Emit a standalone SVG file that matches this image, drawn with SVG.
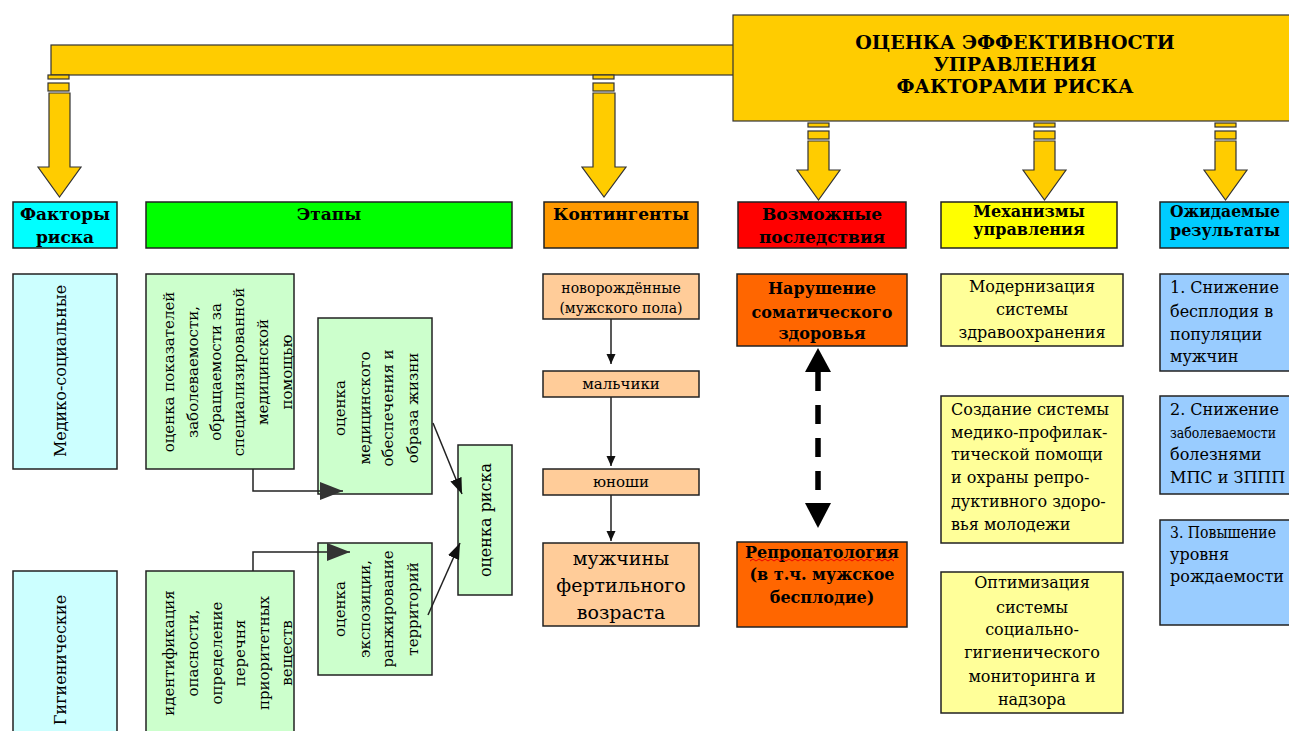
<svg xmlns="http://www.w3.org/2000/svg" width="1289" height="731" viewBox="0 0 1289 731">
<style>
.t{font-family:"DejaVu Serif","Liberation Serif",serif;fill:#000}
.c{text-anchor:middle}
.b{font-weight:bold}
.bx{stroke:#222;stroke-width:1.5}
.gold{fill:#FFCC00;stroke:#333;stroke-width:1.2}
.ln{fill:none;stroke:#222;stroke-width:1.5}
.rot{dominant-baseline:central;text-anchor:middle}
.f15{font-size:15px}
.f16{font-size:16px}
.f17{font-size:17px}
</style>
<defs>
<marker id="bigHead" markerUnits="userSpaceOnUse" markerWidth="24" markerHeight="18" refX="23" refY="9" orient="auto"><path d="M0,0 L23,9 L0,18 Z" fill="#333"/></marker>
<marker id="midHead" markerUnits="userSpaceOnUse" markerWidth="17" markerHeight="13" refX="16" refY="6" orient="auto"><path d="M0,0 L16,6 L0,12 Z" fill="#111"/></marker>
<marker id="smallHead" markerUnits="userSpaceOnUse" markerWidth="11" markerHeight="10" refX="10" refY="4.5" orient="auto"><path d="M0,0 L10,4.5 L0,9 Z" fill="#111"/></marker>
</defs>
<rect width="1289" height="731" fill="#fff"/>

<g id="top-bar"><rect class="gold" x="51" y="45" width="684" height="30"/></g>
<g id="title">
<rect class="gold" x="733" y="15" width="570" height="106"/>
<text class="t b c" font-size="19" x="1015" y="49">ОЦЕНКА ЭФФЕКТИВНОСТИ</text>
<text class="t b c" font-size="19" x="1015" y="71">УПРАВЛЕНИЯ</text>
<text class="t b c" font-size="19" x="1015" y="93">ФАКТОРАМИ РИСКА</text>
</g>

<g id="big-arrows">
<rect class="gold" x="48" y="75" width="21" height="4"/>
<rect class="gold" x="48" y="83" width="21" height="8"/>
<path class="gold" d="M49,93 H70 V167 H81 L59.5,197 L38,167 H49 Z"/>
<rect class="gold" x="593" y="75" width="21" height="4"/>
<rect class="gold" x="593" y="83" width="21" height="8"/>
<path class="gold" d="M593,93 H615 V167 H626 L604,197 L582,167 H593 Z"/>
<rect class="gold" x="808" y="123" width="21" height="4"/>
<rect class="gold" x="808" y="131" width="21" height="8"/>
<path class="gold" d="M808,141 H829 V170 H840 L818.5,200 L797,170 H808 Z"/>
<rect class="gold" x="1034" y="123" width="21" height="4"/>
<rect class="gold" x="1034" y="131" width="21" height="8"/>
<path class="gold" d="M1034,141 H1055 V170 H1066 L1044.5,200 L1023,170 H1034 Z"/>
<rect class="gold" x="1215" y="123" width="21" height="4"/>
<rect class="gold" x="1215" y="131" width="21" height="8"/>
<path class="gold" d="M1215,141 H1236 V170 H1247 L1225.5,200 L1204,170 H1215 Z"/>
</g>

<g id="h-factors"><rect class="bx" x="13" y="202" width="104" height="46" fill="#00FFFF"/>
<text class="t b c f17" x="65" y="220">Факторы</text><text class="t b c f17" x="65" y="243">риска</text></g>
<g id="h-stages"><rect class="bx" x="146" y="202" width="366" height="46" fill="#00FF00"/>
<text class="t b c f17" x="329" y="220">Этапы</text></g>
<g id="h-contingents"><rect class="bx" x="544" y="202" width="154" height="46" fill="#FF9900"/>
<text class="t b c f17" x="621" y="220">Контингенты</text></g>
<g id="h-consequences"><rect class="bx" x="738" y="202" width="168" height="46" fill="#FF0000"/>
<text class="t b c f17" x="822" y="220">Возможные</text><text class="t b c f17" x="822" y="243">последствия</text></g>
<g id="h-mechanisms"><rect class="bx" x="941" y="202" width="176" height="46" fill="#FFFF00"/>
<text class="t b c" font-size="16" x="1029" y="217">Механизмы</text><text class="t b c" font-size="16" x="1029" y="235">управления</text></g>
<g id="h-results"><rect class="bx" x="1160" y="202" width="140" height="46" fill="#00CCFF"/>
<text class="t b c" font-size="16" x="1225" y="217" textLength="110" lengthAdjust="spacingAndGlyphs">Ожидаемые</text><text class="t b c" font-size="16" x="1225" y="236" textLength="110" lengthAdjust="spacingAndGlyphs">результаты</text></g>

<g id="f-medsoc"><rect class="bx" x="13" y="274" width="104" height="195" fill="#CCFFFF"/>
<text class="t rot f16" transform="translate(60,371) rotate(-90)">Медико-социальные</text></g>
<g id="f-hyg"><rect class="bx" x="13" y="571" width="104" height="170" fill="#CCFFFF"/>
<text class="t rot f16" transform="translate(60,660) rotate(-90)">Гигиенические</text></g>

<g id="s-morb"><rect class="bx" x="146" y="274" width="148" height="195" fill="#CCFFCC"/>
<g transform="translate(0,372) rotate(-90)" class="t f15">
<text class="rot" x="0" y="169">оценка показателей</text>
<text class="rot" x="0" y="193">заболеваемости,</text>
<text class="rot" x="0" y="216">обращаемости за</text>
<text class="rot" x="0" y="239">специализированной</text>
<text class="rot" x="0" y="263">медицинской</text>
<text class="rot" x="0" y="287">помощью</text>
</g></g>
<g id="s-hazard"><rect class="bx" x="146" y="571" width="148" height="170" fill="#CCFFCC"/>
<g transform="translate(0,653) rotate(-90)" class="t f15">
<text class="rot" x="0" y="169">идентификация</text>
<text class="rot" x="0" y="193">опасности,</text>
<text class="rot" x="0" y="217">определение</text>
<text class="rot" x="0" y="240">перечня</text>
<text class="rot" x="0" y="264">приоритетных</text>
<text class="rot" x="0" y="287">веществ</text>
</g></g>
<g id="s-medsupport"><rect class="bx" x="318" y="318" width="114" height="176" fill="#CCFFCC"/>
<g transform="translate(0,408) rotate(-90)" class="t f15">
<text class="rot" x="0" y="340">оценка</text>
<text class="rot" x="0" y="365">медицинского</text>
<text class="rot" x="0" y="388">обеспечения и</text>
<text class="rot" x="0" y="413">образа жизни</text>
</g></g>
<g id="s-exposure"><rect class="bx" x="318" y="543" width="114" height="132" fill="#CCFFCC"/>
<g transform="translate(0,609) rotate(-90)" class="t f15">
<text class="rot" x="0" y="340">оценка</text>
<text class="rot" x="0" y="365">экспозиции,</text>
<text class="rot" x="0" y="388">ранжирование</text>
<text class="rot" x="0" y="413">территорий</text>
</g></g>
<g id="s-risk"><rect class="bx" x="458" y="445" width="54" height="150" fill="#CCFFCC"/>
<text class="t rot f16" transform="translate(485,520) rotate(-90)">оценка риска</text></g>

<g id="c-newborn"><rect class="bx" x="543" y="274" width="156" height="45" fill="#FFCC99"/>
<text class="t c" font-size="14" x="621" y="293">новорождённые</text><text class="t c" font-size="14" x="621" y="313">(мужского пола)</text></g>
<g id="c-boys"><rect class="bx" x="543" y="371" width="156" height="26" fill="#FFCC99"/>
<text class="t c f15" x="621" y="389">мальчики</text></g>
<g id="c-youth"><rect class="bx" x="543" y="469" width="156" height="26" fill="#FFCC99"/>
<text class="t c f15" x="621" y="487">юноши</text></g>
<g id="c-men"><rect class="bx" x="543" y="543" width="156" height="83" fill="#FFCC99"/>
<text class="t c" font-size="19" x="621" y="565">мужчины</text><text class="t c" font-size="19" x="621" y="592">фертильного</text><text class="t c" font-size="19" x="621" y="619">возраста</text></g>

<g id="q-somatic"><rect class="bx" x="737" y="274" width="170" height="72" fill="#FF6600"/>
<text class="t b c f16" x="822" y="294">Нарушение</text><text class="t b c f16" x="822" y="318">соматического</text><text class="t b c f16" x="822" y="339">здоровья</text></g>
<g id="q-repro"><rect class="bx" x="737" y="542" width="170" height="85" fill="#FF6600"/>
<text class="t b c f16" x="822" y="558">Репропатология</text>
<path d="M750,561 l3,-2 l3,2 l3,-2 l3,2 l3,-2 l3,2 l3,-2 l3,2 l3,-2 l3,2 l3,-2 l3,2 l3,-2 l3,2 l3,-2 l3,2 l3,-2 l3,2 l3,-2 l3,2 l3,-2 l3,2 l3,-2 l3,2 l3,-2 l3,2 l3,-2 l3,2 l3,-2 l3,2 l3,-2 l3,2 l3,-2 l3,2 l3,-2 l3,2 l3,-2 l3,2 l3,-2 l3,2 l3,-2 l3,2 l3,-2 l3,2 l3,-2 l3,2 l3,-2 l3,2" fill="none" stroke="#e00" stroke-width="1"/>
<text class="t b c f16" x="822" y="580">(в т.ч. мужское</text><text class="t b c f16" x="822" y="603">бесплодие)</text></g>

<g id="m-modern"><rect class="bx" x="941" y="274" width="182" height="72" fill="#FFFF99"/>
<text class="t c f16" x="1032" y="292">Модернизация</text><text class="t c f16" x="1032" y="315">системы</text><text class="t c f16" x="1032" y="338">здравоохранения</text></g>
<g id="m-create"><rect class="bx" x="941" y="396" width="182" height="147" fill="#FFFF99"/>
<text class="t f16" x="951" y="415">Создание системы</text>
<text class="t f16" x="951" y="438">медико-профилак-</text>
<text class="t f16" x="951" y="460">тической помощи</text>
<text class="t f16" x="951" y="483">и охраны репро-</text>
<text class="t f16" x="951" y="507">дуктивного здоро-</text>
<text class="t f16" x="951" y="530">вья молодежи</text></g>
<g id="m-optim"><rect class="bx" x="941" y="572" width="182" height="141" fill="#FFFF99"/>
<text class="t c f16" x="1032" y="588">Оптимизация</text><text class="t c f16" x="1032" y="613">системы</text><text class="t c f16" x="1032" y="635">социально-</text><text class="t c f16" x="1032" y="658">гигиенического</text><text class="t c f16" x="1032" y="682">мониторинга и</text><text class="t c f16" x="1032" y="705">надзора</text></g>

<g id="r-1"><rect class="bx" x="1160" y="274" width="140" height="97" fill="#99CCFF"/>
<text class="t f16" x="1170" y="293">1. Снижение</text><text class="t f16" x="1170" y="317">бесплодия в</text><text class="t f16" x="1170" y="340">популяции</text><text class="t f16" x="1170" y="362">мужчин</text></g>
<g id="r-2"><rect class="bx" x="1160" y="396" width="140" height="98" fill="#99CCFF"/>
<text class="t f16" x="1170" y="415">2. Снижение</text><text class="t" font-size="14" x="1170" y="438" textLength="106" lengthAdjust="spacingAndGlyphs">заболеваемости</text><text class="t f16" x="1170" y="460">болезнями</text><text class="t f16" x="1170" y="483">МПС и ЗППП</text></g>
<g id="r-3"><rect class="bx" x="1160" y="520" width="140" height="105" fill="#99CCFF"/>
<text class="t f16" x="1170" y="538" textLength="106" lengthAdjust="spacingAndGlyphs">3. Повышение</text><text class="t f16" x="1170" y="560">уровня</text><text class="t f16" x="1170" y="582">рождаемости</text></g>

<g id="connectors">
<path class="ln" d="M253,469 V491 H343" marker-end="url(#bigHead)"/>
<path class="ln" d="M253,571 V552 H350" marker-end="url(#bigHead)"/>
<path class="ln" d="M433,423 L462,494" marker-end="url(#midHead)"/>
<path class="ln" d="M428,615 L460,543" marker-end="url(#midHead)"/>
<path class="ln" d="M611,319 V364" marker-end="url(#smallHead)"/>
<path class="ln" d="M611,397 V466" marker-end="url(#smallHead)"/>
<path class="ln" d="M611,495 V541" marker-end="url(#smallHead)"/>
<path d="M818,372 V503" fill="none" stroke="#000" stroke-width="5.5" stroke-dasharray="19 14"/>
<path d="M818,348 L831,372 L805,372 Z" fill="#000"/>
<path d="M818,528 L831,503 L805,503 Z" fill="#000"/>
</g>
</svg>
